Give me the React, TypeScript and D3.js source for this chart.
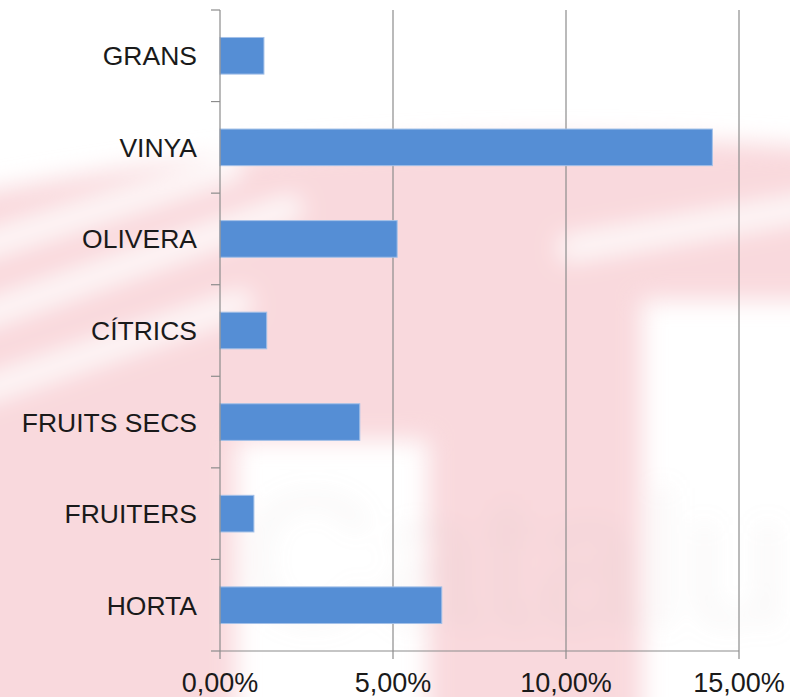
import React, { useEffect, useRef } from "react";
import * as d3 from "d3";

// Chart data (share of surface, as fractions)
const categories = ["GRANS", "VINYA", "OLIVERA", "CÍTRICS", "FRUITS SECS", "FRUITERS", "HORTA"];
const shares = [0.0127, 0.1423, 0.0512, 0.0135, 0.0404, 0.0098, 0.0641];
const xTicks = [0, 0.05, 0.1, 0.15];

const fmt = (v: number) => (v * 100).toFixed(2).replace(".", ",") + "%";

function App() {
  const svgRef = useRef<SVGSVGElement>(null);

  useEffect(() => {
    const width = 790;
    const height = 697;
    const margin = { top: 10, right: 51, bottom: 46, left: 220 };

    const svg = d3.select(svgRef.current).attr("width", width).attr("height", height);
    svg.selectAll("*").remove();

    // faint watermark behind the plot
    const defs = svg.append("defs");
    defs
      .append("filter")
      .attr("id", "soft")
      .attr("x", "-20%")
      .attr("y", "-20%")
      .attr("width", "140%")
      .attr("height", "140%")
      .append("feGaussianBlur")
      .attr("stdDeviation", 12);

    svg.append("rect").attr("width", width).attr("height", height).attr("fill", "#fff");
    const wm = svg.append("g").attr("filter", "url(#soft)");
    wm.append("path")
      .attr(
        "d",
        "M-30,195 Q380,115 820,148 L820,300 L642,300 L642,730 L428,730 L428,440 L236,440 L236,730 L-30,730 Z"
      )
      .attr("fill", "#f9d9dd");
    [
      [-30, 250, 240, 165],
      [-30, 320, 300, 205],
      [-30, 395, 250, 300],
      [560, 250, 820, 205],
    ].forEach(([x1, y1, x2, y2]) =>
      wm.append("line")
        .attr("x1", x1).attr("y1", y1).attr("x2", x2).attr("y2", y2)
        .attr("stroke", "#fff").attr("stroke-width", 24).attr("opacity", 0.9)
    );
    wm.append("text")
      .attr("x", 240)
      .attr("y", 625)
      .attr("font-family", "Liberation Sans, Arial, sans-serif")
      .attr("font-size", 190)
      .attr("fill", "#c8bcbc")
      .attr("opacity", 0.12)
      .text("Catalu");

    const x = d3
      .scaleLinear()
      .domain([0, 0.15])
      .range([margin.left, width - margin.right]);

    const y = d3
      .scaleBand()
      .domain(categories)
      .range([margin.top, height - margin.bottom])
      .paddingInner(0.6)
      .paddingOuter(0.3);

    const gridColor = "#8c8c8c";
    const font = "Liberation Sans, Arial, sans-serif";
    const y0 = margin.top;
    const y1 = height - margin.bottom;

    // vertical gridlines
    svg.append("g")
      .selectAll("line")
      .data(xTicks.slice(1))
      .join("line")
      .attr("x1", (d) => x(d))
      .attr("x2", (d) => x(d))
      .attr("y1", y0)
      .attr("y2", y1)
      .attr("stroke", gridColor)
      .attr("stroke-width", 1.2);

    // bars
    svg.append("g")
      .selectAll("rect")
      .data(categories)
      .join("rect")
      .attr("x", x(0))
      .attr("y", (d) => y(d)!)
      .attr("width", (d, i) => x(shares[i]) - x(0))
      .attr("height", y.bandwidth())
      .attr("fill", "#558ed5")
      .attr("stroke", "#a3c0e8")
      .attr("stroke-width", 1);

    // Y axis (category boundaries as ticks)
    const step = y.step();
    const yAxis = svg.append("g");
    yAxis.append("line")
      .attr("x1", x(0)).attr("x2", x(0))
      .attr("y1", y0).attr("y2", y1)
      .attr("stroke", gridColor).attr("stroke-width", 1.2);
    yAxis.selectAll("line.tick")
      .data(d3.range(categories.length + 1))
      .join("line")
      .attr("class", "tick")
      .attr("x1", x(0) - 9).attr("x2", x(0))
      .attr("y1", (i) => y0 + i * step)
      .attr("y2", (i) => y0 + i * step)
      .attr("stroke", gridColor).attr("stroke-width", 1.2);
    yAxis.selectAll("text")
      .data(categories)
      .join("text")
      .attr("x", x(0) - 23)
      .attr("y", (d) => y(d)! + y.bandwidth() / 2)
      .attr("dy", "0.36em")
      .attr("text-anchor", "end")
      .attr("font-family", font)
      .attr("font-size", 26.5)
      .attr("fill", "#1a1a1a")
      .text((d) => d);

    // X axis
    const xAxis = svg.append("g");
    xAxis.append("line")
      .attr("x1", x(0)).attr("x2", x(0.15))
      .attr("y1", y1).attr("y2", y1)
      .attr("stroke", gridColor).attr("stroke-width", 1.2);
    xAxis.selectAll("line.tick")
      .data(xTicks)
      .join("line")
      .attr("class", "tick")
      .attr("x1", (d) => x(d)).attr("x2", (d) => x(d))
      .attr("y1", y1).attr("y2", y1 + 8)
      .attr("stroke", gridColor).attr("stroke-width", 1.2);
    xAxis.selectAll("text")
      .data(xTicks)
      .join("text")
      .attr("x", (d) => x(d))
      .attr("y", 692)
      .attr("text-anchor", "middle")
      .attr("font-family", font)
      .attr("font-size", 27)
      .attr("fill", "#1a1a1a")
      .text((d) => fmt(d));
  }, []);

  return <svg ref={svgRef} style={{ position: "absolute", left: 0, top: 0 }}></svg>;
}

export default App;
